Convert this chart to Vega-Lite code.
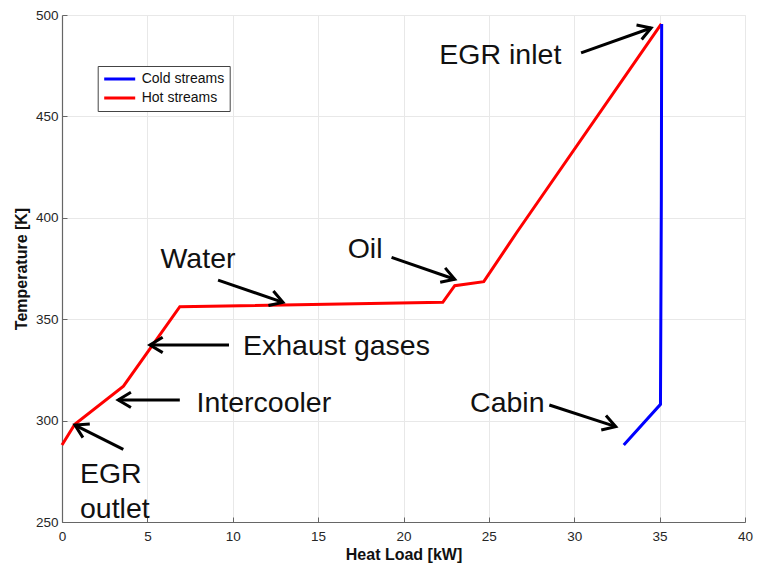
{
  "$schema": "https://vega.github.io/schema/vega-lite/v6.json",
  "width": 683,
  "height": 507,
  "autosize": "none",
  "padding": {"left": 62, "top": 15, "right": 12, "bottom": 46},
  "background": "white",
  "config": {
    "font": "Liberation Sans",
    "view": {"stroke": "#e6e6e6", "strokeWidth": 1},
    "axis": {
      "domainColor": "#666666",
      "domainWidth": 1.2,
      "tickColor": "#666666",
      "tickSize": -5,
      "gridColor": "#e8e8e8",
      "gridWidth": 1,
      "labelColor": "#262626",
      "labelFontSize": 13.5,
      "labelFont": "Liberation Sans",
      "labelFlush": false,
      "labelOverlap": false,
      "titleFont": "Liberation Sans",
      "titleFontSize": 16,
      "titleFontWeight": "bold",
      "titleColor": "#111111"
    }
  },
  "layer": [
    {
      "data": {"values": [
        {"x": 0, "T": 288, "stream": "Hot streams", "o": 1},
        {"x": 0.75, "T": 298.2, "stream": "Hot streams", "o": 2},
        {"x": 3.6, "T": 317, "stream": "Hot streams", "o": 3},
        {"x": 6.9, "T": 356.2, "stream": "Hot streams", "o": 4},
        {"x": 22.3, "T": 358.3, "stream": "Hot streams", "o": 5},
        {"x": 23.0, "T": 366.5, "stream": "Hot streams", "o": 6},
        {"x": 24.7, "T": 368.5, "stream": "Hot streams", "o": 7},
        {"x": 26.65, "T": 393, "stream": "Hot streams", "o": 8},
        {"x": 35.1, "T": 495.6, "stream": "Hot streams", "o": 9},
        {"x": 32.9, "T": 288, "stream": "Cold streams", "o": 1},
        {"x": 35.05, "T": 308, "stream": "Cold streams", "o": 2},
        {"x": 35.1, "T": 409, "stream": "Cold streams", "o": 3},
        {"x": 35.12, "T": 495.6, "stream": "Cold streams", "o": 4}
      ]},
      "mark": {"type": "line", "strokeWidth": 3, "strokeJoin": "miter"},
      "encoding": {
        "x": {"field": "x", "type": "quantitative",
              "scale": {"domain": [0, 40], "nice": false, "zero": false},
              "axis": {"title": "Heat Load [kW]", "values": [0,5,10,15,20,25,30,35,40], "labelPadding": 12, "titlePadding": 4}},
        "y": {"field": "T", "type": "quantitative",
              "scale": {"domain": [250, 500], "nice": false, "zero": false},
              "axis": {"title": "Temperature [K]", "values": [250,300,350,400,450,500], "labelPadding": 9, "titlePadding": 6}},
        "order": {"field": "o", "type": "quantitative"},
        "color": {"field": "stream", "type": "nominal",
                  "scale": {"domain": ["Cold streams", "Hot streams"], "range": ["#0000ff", "#ff0000"]},
                  "legend": {
                    "title": null,
                    "orient": "none",
                    "legendX": 35.7,
                    "legendY": 51,
                    "symbolType": "stroke",
                    "symbolSize": 961,
                    "symbolStrokeWidth": 3,
                    "labelFontSize": 14,
                    "labelFont": "Liberation Sans",
                    "labelColor": "#111111",
                    "labelOffset": 5,
                    "clipHeight": 16,
                    "rowPadding": 3,
                    "padding": 5,
                    "strokeColor": "#444444",
                    "fillColor": "white"
                  }}
      }
    },
    {
      "data": {"values": [
        {"x": 30.4, "y": 481.3, "x2": 34.5, "y2": 493.6},
        {"x": 19.3, "y": 380.5, "x2": 23.0, "y2": 369.7},
        {"x": 9.14, "y": 369.3, "x2": 12.94, "y2": 358.3},
        {"x": 9.78, "y": 337.3, "x2": 5.15, "y2": 337.3},
        {"x": 6.9, "y": 310.2, "x2": 3.29, "y2": 310.2},
        {"x": 3.59, "y": 285.8, "x2": 0.76, "y2": 297.8},
        {"x": 28.54, "y": 307.7, "x2": 32.43, "y2": 297.0}
      ]},
      "mark": {"type": "rule", "color": "black", "strokeWidth": 3},
      "encoding": {
        "x": {"field": "x", "type": "quantitative"},
        "y": {"field": "y", "type": "quantitative"},
        "x2": {"field": "x2"},
        "y2": {"field": "y2"}
      }
    },
    {
      "data": {"values": [
        {"x": 34.5, "y": 493.6, "angle": 70.3},
        {"x": 23.0, "y": 369.7, "angle": 109},
        {"x": 12.94, "y": 358.3, "angle": 108.9},
        {"x": 5.15, "y": 337.3, "angle": 270},
        {"x": 3.29, "y": 310.2, "angle": 270},
        {"x": 0.76, "y": 297.8, "angle": 296.7},
        {"x": 32.43, "y": 297.0, "angle": 108}
      ]},
      "mark": {"type": "point", "shape": "M -0.6 1 L 0 0 L 0.6 1", "filled": false, "color": "black", "strokeWidth": 3, "opacity": 1, "size": 650, "strokeJoin": "miter"},
      "encoding": {
        "x": {"field": "x", "type": "quantitative"},
        "y": {"field": "y", "type": "quantitative"},
        "angle": {"field": "angle", "type": "quantitative", "scale": null}
      }
    },
    {
      "data": {"values": [
        {"x": 22.1, "y": 475.8, "label": "EGR inlet"},
        {"x": 16.73, "y": 380.2, "label": "Oil"},
        {"x": 5.77, "y": 375.1, "label": "Water"},
        {"x": 10.6, "y": 332.3, "label": "Exhaust gases"},
        {"x": 7.88, "y": 304.4, "label": "Intercooler"},
        {"x": 1.05, "y": 269.4, "label": "EGR"},
        {"x": 1.05, "y": 252.2, "label": "outlet"},
        {"x": 23.9, "y": 304.4, "label": "Cabin"}
      ]},
      "mark": {"type": "text", "align": "left", "baseline": "alphabetic", "fontSize": 28.5, "font": "Liberation Sans", "color": "#111111"},
      "encoding": {
        "x": {"field": "x", "type": "quantitative"},
        "y": {"field": "y", "type": "quantitative"},
        "text": {"field": "label"}
      }
    }
  ]
}
